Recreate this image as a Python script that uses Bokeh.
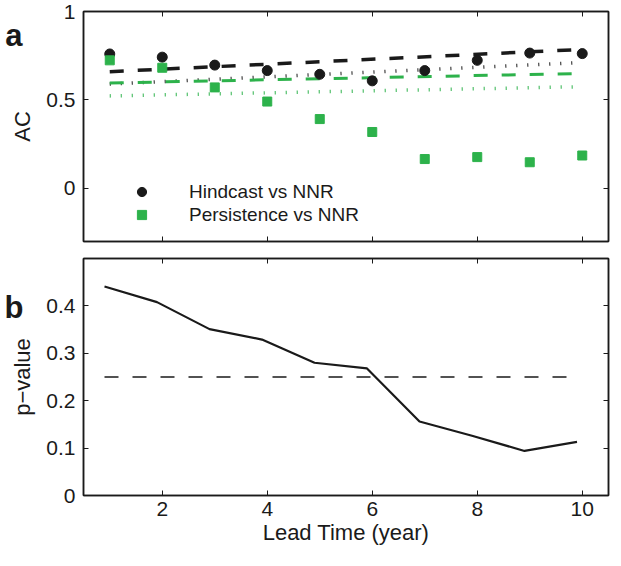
from bokeh.plotting import figure
from bokeh.models import FixedTicker, LinearAxis, Range1d, Legend, LegendItem
from bokeh.layouts import column
from bokeh.embed import file_html
from bokeh.resources import INLINE

# ---- data ----
lead_time = [1, 2, 3, 4, 5, 6, 7, 8, 9, 10]
hindcast_ac = [0.760, 0.742, 0.697, 0.666, 0.645, 0.608, 0.666, 0.724, 0.765, 0.762]
persistence_ac = [0.724, 0.682, 0.571, 0.491, 0.392, 0.319, 0.166, 0.177, 0.148, 0.186]

ref_lead = [1, 10]
hindcast_dashed = [0.660, 0.786]
hindcast_dotted = [0.590, 0.712]
persistence_dashed = [0.596, 0.650]
persistence_dotted = [0.523, 0.575]

p_lead = [0.9, 1.9, 2.9, 3.9, 4.9, 5.9, 6.9, 7.9, 8.9, 9.9]
p_value = [0.441, 0.408, 0.351, 0.329, 0.280, 0.268, 0.156, 0.126, 0.094, 0.113]
p_thr_lead = [0.9, 9.9]
p_threshold = [0.25, 0.25]

x_ticks = [2, 4, 6, 8, 10]
ac_ticks = [0, 0.5, 1]
ac_labels = {0: "0", 0.5: "0.5", 1: "1"}
p_ticks = [0, 0.1, 0.2, 0.3, 0.4]
p_labels = {0: "0", 0.1: "0.1", 0.2: "0.2", 0.3: "0.3", 0.4: "0.4"}

FONT = "Liberation Sans"
GREEN = "#2db24b"
INK = "#1a1a1a"


def base_axes(p, yticks, ylabels, ylabel, show_xlabels, xlabel=None):
    p.xgrid.visible = False
    p.ygrid.visible = False
    p.outline_line_color = INK
    p.outline_line_width = 1.5
    ya = p.yaxis[0]
    ya.ticker = FixedTicker(ticks=yticks)
    ya.major_label_overrides = ylabels
    ya.axis_label = ylabel
    xa = p.xaxis[0]
    xa.ticker = FixedTicker(ticks=x_ticks)
    for ax in (ya, xa):
        ax.axis_line_color = INK
        ax.axis_line_width = 1.5
        ax.major_tick_in = 5
        ax.major_tick_out = 0
        ax.major_tick_line_color = INK
        ax.minor_tick_line_color = None
        ax.major_label_text_font = FONT
        ax.major_label_text_font_size = "21px"
        ax.major_label_text_color = INK
        ax.axis_label_text_font = FONT
        ax.axis_label_text_font_size = "22px"
        ax.axis_label_text_font_style = "normal"
        ax.axis_label_text_color = INK
    ya.major_label_standoff = 8
    ya.axis_label_standoff = 8
    if show_xlabels:
        xa.axis_label = xlabel
        xa.major_label_standoff = 6
        xa.axis_label_standoff = 1
    else:
        xa.major_label_text_font_size = "0px"
        xa.major_label_text_color = None
        xa.major_label_standoff = 0
    ra = LinearAxis(ticker=FixedTicker(ticks=yticks))
    ta = LinearAxis(ticker=FixedTicker(ticks=x_ticks))
    for ax in (ra, ta):
        ax.axis_line_color = INK
        ax.axis_line_width = 1.5
        ax.major_tick_in = 5
        ax.major_tick_out = 0
        ax.major_tick_line_color = INK
        ax.minor_tick_line_color = None
        ax.major_label_text_font_size = "0px"
        ax.major_label_text_color = None
        ax.major_label_standoff = 0
    p.add_layout(ra, "right")
    p.add_layout(ta, "above")


def panel_letter(p, letter, y_pos, standoff):
    # an outer, line-less left axis whose only tick label is the panel letter
    ax = LinearAxis(ticker=FixedTicker(ticks=[y_pos]),
                    major_label_overrides={y_pos: letter})
    ax.axis_line_color = None
    ax.major_tick_line_color = None
    ax.minor_tick_line_color = None
    ax.major_tick_in = 0
    ax.major_tick_out = 0
    ax.major_label_standoff = standoff
    ax.major_label_text_font = FONT
    ax.major_label_text_font_style = "bold"
    ax.major_label_text_font_size = "31px"
    ax.major_label_text_color = INK
    p.add_layout(ax, "left")


# ---- panel a ----
p1 = figure(width=611, height=249, output_backend="svg", toolbar_location=None,
            x_range=Range1d(0.5, 10.5), y_range=Range1d(-0.3, 1.0),
            min_border_left=83, min_border_right=3, min_border_top=11, min_border_bottom=8,
            background_fill_color="white", border_fill_color="white")
base_axes(p1, ac_ticks, ac_labels, "AC", False)

p1.line(ref_lead, hindcast_dashed, color=INK, line_width=3.5, line_dash="14 14", line_cap="butt")
p1.line(ref_lead, hindcast_dotted, color=INK, line_width=3.5, line_dash="1 10", line_cap="butt")
p1.line(ref_lead, persistence_dashed, color=GREEN, line_width=3, line_dash="14 14", line_cap="butt")
p1.line(ref_lead, persistence_dotted, color=GREEN, line_width=3.5, line_dash="1 10", line_cap="butt")

r_h = p1.scatter(lead_time, hindcast_ac, marker="circle", size=10, color=INK)
r_p = p1.scatter(lead_time, persistence_ac, marker="square", size=9, color=GREEN)

legend = Legend(items=[LegendItem(label="Hindcast vs NNR", renderers=[r_h]),
                       LegendItem(label="Persistence vs NNR", renderers=[r_p])],
                location=(46, 15), orientation="vertical",
                background_fill_alpha=0, border_line_alpha=0,
                padding=0, margin=0, spacing=0,
                glyph_width=25, glyph_height=23, label_height=23, label_standoff=35,
                label_text_font=FONT, label_text_font_size="19px", label_text_color=INK)
p1.add_layout(legend)
panel_letter(p1, "a", 0.865, -15)

# ---- panel b ----
p2 = figure(width=611, height=301, output_backend="svg", toolbar_location=None,
            x_range=Range1d(0.5, 10.5), y_range=Range1d(0, 0.5),
            min_border_left=83, min_border_right=3, min_border_top=9, min_border_bottom=55,
            background_fill_color="white", border_fill_color="white")
base_axes(p2, p_ticks, p_labels, "p\u2212value", True, "Lead Time (year)")

p2.line(p_thr_lead, p_threshold, color=INK, line_width=1.3, line_dash="14 14", line_cap="butt")
p2.line(p_lead, p_value, color=INK, line_width=2.2)
panel_letter(p2, "b", 0.397, -16)

layout = column(p1, p2, spacing=0)
open("out.html", "w").write(file_html(layout, INLINE))
